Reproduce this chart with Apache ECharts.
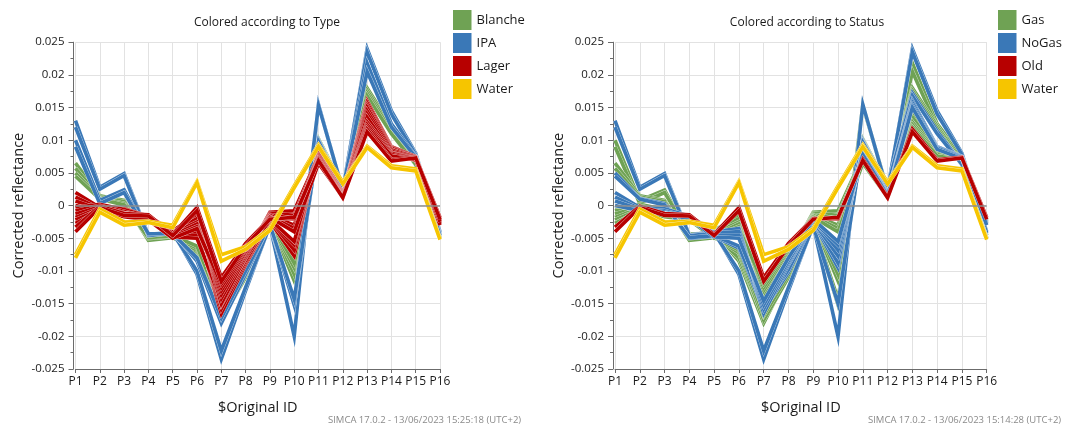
<!DOCTYPE html>
<html>
<head>
<meta charset="utf-8">
<title>Corrected reflectance spectra</title>
<script src="https://cdn.jsdelivr.net/npm/echarts@6/dist/echarts.min.js"></script>
<style>
  html, body { margin: 0; padding: 0; background: #fff; }
  #chart { width: 1074px; height: 428px; }
</style>
</head>
<body>
<div id="chart"></div>
<script>
// Wavelength positions (variables) along the x axis
const categories = ['P1', 'P2', 'P3', 'P4', 'P5', 'P6', 'P7', 'P8', 'P9', 'P10', 'P11', 'P12', 'P13', 'P14', 'P15', 'P16'];

// One row per sample: name, beer type and storage status
const sampleNames = ['IPA1', 'IPA2', 'IPA3', 'IPA4', 'B1', 'B2', 'B3', 'B4',
  'L1', 'L2', 'L3', 'L4', 'L5', 'L6', 'L7', 'L8', 'L9', 'L10', 'L11', 'L12', 'W1', 'W2'];
const sampleType = ['IPA', 'IPA', 'IPA', 'IPA', 'Blanche', 'Blanche', 'Blanche', 'Blanche',
  'Lager', 'Lager', 'Lager', 'Lager', 'Lager', 'Lager', 'Lager', 'Lager', 'Lager', 'Lager', 'Lager', 'Lager', 'Water', 'Water'];
const sampleStatus = ['NoGas', 'NoGas', 'Gas', 'Gas', 'Gas', 'Gas', 'NoGas', 'NoGas',
  'NoGas', 'NoGas', 'NoGas', 'NoGas', 'Gas', 'Gas', 'Gas', 'Gas', 'Gas', 'Gas', 'Old', 'Old', 'Water', 'Water'];

// Corrected reflectance per sample, P1..P16
const spectra = [
  [0.0130, 0.0028, 0.0049, -0.0045, -0.0040, -0.0105, -0.0235, -0.0130, -0.0030, -0.0200, 0.0155, 0.0022, 0.0240, 0.0145, 0.0080, -0.0040],
  [0.0120, 0.0025, 0.0046, -0.0046, -0.0042, -0.0100, -0.0222, -0.0125, -0.0031, -0.0150, 0.0100, 0.0025, 0.0235, 0.0140, 0.0078, -0.0042],
  [0.0100, 0.0008, 0.0024, -0.0044, -0.0041, -0.0085, -0.0180, -0.0105, -0.0028, -0.0152, 0.0153, 0.0024, 0.0218, 0.0125, 0.0075, -0.0045],
  [0.0090, 0.0003, 0.0020, -0.0043, -0.0043, -0.0080, -0.0172, -0.0100, -0.0029, -0.0143, 0.0098, 0.0026, 0.0205, 0.0120, 0.0074, -0.0046],
  [0.0065, 0.0015, 0.0008, -0.0052, -0.0048, -0.0072, -0.0175, -0.0110, -0.0024, -0.0115, 0.0102, 0.0030, 0.0180, 0.0122, 0.0065, -0.0050],
  [0.0057, 0.0013, 0.0006, -0.0053, -0.0049, -0.0068, -0.0168, -0.0106, -0.0022, -0.0105, 0.0100, 0.0029, 0.0176, 0.0118, 0.0062, -0.0051],
  [0.0050, 0.0011, 0.0003, -0.0050, -0.0047, -0.0065, -0.0160, -0.0102, -0.0025, -0.0095, 0.0098, 0.0031, 0.0172, 0.0114, 0.0064, -0.0049],
  [0.0045, 0.0010, 0.0001, -0.0049, -0.0046, -0.0062, -0.0155, -0.0098, -0.0023, -0.0088, 0.0097, 0.0030, 0.0168, 0.0110, 0.0063, -0.0050],
  [0.0020, -0.0003, -0.0005, -0.0016, -0.0040, -0.0035, -0.0165, -0.0090, -0.0024, -0.0077, 0.0085, 0.0018, 0.0160, 0.0090, 0.0075, -0.0025],
  [0.0013, -0.0005, -0.0008, -0.0018, -0.0042, -0.0040, -0.0158, -0.0087, -0.0022, -0.0068, 0.0082, 0.0017, 0.0157, 0.0089, 0.0074, -0.0027],
  [0.0007, -0.0006, -0.0010, -0.0019, -0.0045, -0.0045, -0.0152, -0.0084, -0.0023, -0.0060, 0.0080, 0.0016, 0.0153, 0.0088, 0.0073, -0.0028],
  [0.0000, -0.0008, -0.0012, -0.0020, -0.0048, -0.0050, -0.0146, -0.0080, -0.0021, -0.0055, 0.0078, 0.0015, 0.0150, 0.0086, 0.0072, -0.0030],
  [-0.0003, 0.0002, -0.0006, -0.0017, -0.0038, -0.0015, -0.0150, -0.0078, -0.0010, -0.0008, 0.0076, 0.0018, 0.0145, 0.0085, 0.0074, -0.0020],
  [-0.0008, 0.0000, -0.0009, -0.0018, -0.0040, -0.0020, -0.0142, -0.0075, -0.0012, -0.0015, 0.0074, 0.0017, 0.0140, 0.0083, 0.0073, -0.0021],
  [-0.0013, -0.0002, -0.0011, -0.0019, -0.0043, -0.0025, -0.0136, -0.0072, -0.0014, -0.0020, 0.0072, 0.0016, 0.0135, 0.0081, 0.0072, -0.0022],
  [-0.0018, -0.0004, -0.0013, -0.0020, -0.0046, -0.0028, -0.0130, -0.0070, -0.0015, -0.0030, 0.0070, 0.0015, 0.0128, 0.0080, 0.0071, -0.0023],
  [-0.0022, -0.0006, -0.0015, -0.0021, -0.0048, -0.0032, -0.0125, -0.0067, -0.0017, -0.0035, 0.0067, 0.0014, 0.0124, 0.0078, 0.0070, -0.0024],
  [-0.0027, -0.0008, -0.0017, -0.0022, -0.0050, -0.0035, -0.0120, -0.0065, -0.0018, -0.0040, 0.0065, 0.0013, 0.0120, 0.0076, 0.0070, -0.0025],
  [-0.0033, -0.0001, -0.0012, -0.0014, -0.0044, -0.0003, -0.0110, -0.0058, -0.0020, -0.0020, 0.0071, 0.0013, 0.0117, 0.0070, 0.0074, -0.0018],
  [-0.0040, -0.0003, -0.0015, -0.0016, -0.0046, -0.0008, -0.0116, -0.0062, -0.0021, -0.0018, 0.0069, 0.0012, 0.0113, 0.0068, 0.0073, -0.0021],
  [-0.0075, -0.0005, -0.0025, -0.0024, -0.0030, 0.0037, -0.0075, -0.0063, -0.0035, 0.0030, 0.0093, 0.0036, 0.0091, 0.0061, 0.0056, -0.0050],
  [-0.0080, -0.0010, -0.0030, -0.0026, -0.0034, 0.0035, -0.0085, -0.0067, -0.0038, 0.0027, 0.0090, 0.0033, 0.0089, 0.0058, 0.0053, -0.0052]
];

// Group order (also drawing order) and colours for each panel
const typeGroups = ['Blanche', 'IPA', 'Lager', 'Water'];
const statusGroups = ['Gas', 'NoGas', 'Old', 'Water'];
const groupColors = ['#6FA254', '#3A78B7', '#B70000', '#F6C500'];

const FONT = 'Open Sans';
const AXIS_COLOR = '#6b6b6b';
const GRID_COLOR = '#e2e2e2';

// Each spectrum gets a faint white halo underneath so overlapping lines stay distinct
function panelSeries(labels, groups, axisIndex) {
  const out = [];
  groups.forEach((g, gi) => {
    labels.forEach((lab, i) => {
      if (lab !== g) return;
      out.push({
        type: 'line', name: sampleNames[i] + ' halo',
        xAxisIndex: axisIndex, yAxisIndex: axisIndex,
        data: spectra[i], symbol: 'none', silent: true,
        lineStyle: { color: '#ffffff', width: 4.2, join: 'miter', opacity: 0.8 },
        itemStyle: { color: '#ffffff' }
      });
      out.push({
        type: 'line', name: g,
        xAxisIndex: axisIndex, yAxisIndex: axisIndex,
        data: spectra[i], symbol: 'none',
        lineStyle: { color: groupColors[gi], width: 3.6, join: 'miter' },
        itemStyle: { color: groupColors[gi] }
      });
    });
  });
  // zero reference line, drawn underneath all spectra
  out.unshift({
    type: 'line', name: 'zero', xAxisIndex: axisIndex, yAxisIndex: axisIndex,
    data: [], symbol: 'none', silent: true,
    markLine: {
      silent: true, symbol: 'none', label: { show: false },
      lineStyle: { color: '#8c8c8c', width: 1.5, type: 'solid' },
      data: [{ yAxis: 0 }]
    }
  });
  return out;
}

function xAxisFor(gridIndex) {
  return {
    type: 'category', gridIndex: gridIndex, data: categories, boundaryGap: false,
    name: '$Original ID', nameLocation: 'middle', nameGap: 31,
    nameTextStyle: { fontFamily: FONT, fontSize: 14.5, color: '#1a1a1a' },
    axisLine: { onZero: false, lineStyle: { color: AXIS_COLOR, width: 1 } },
    axisTick: { show: true, length: 4, lineStyle: { color: AXIS_COLOR } },
    axisLabel: { interval: 0, margin: 7, fontFamily: FONT, fontSize: 12, color: '#1a1a1a' },
    splitLine: { show: true, lineStyle: { color: GRID_COLOR, width: 1 } }
  };
}

function yAxisFor(gridIndex) {
  return {
    type: 'value', gridIndex: gridIndex, min: -0.025, max: 0.025, interval: 0.005,
    offset: 2,
    name: 'Corrected reflectance', nameLocation: 'middle', nameGap: 47, nameRotate: 90,
    nameTextStyle: { fontFamily: FONT, fontSize: 14.5, color: '#1a1a1a' },
    axisLine: { show: true, lineStyle: { color: AXIS_COLOR, width: 1 } },
    axisTick: { show: true, length: 5, lineStyle: { color: AXIS_COLOR } },
    minorTick: { show: true, splitNumber: 2, length: 3, lineStyle: { color: AXIS_COLOR } },
    axisLabel: {
      margin: 9, fontFamily: FONT, fontSize: 11.5, color: '#1a1a1a',
      formatter: v => String(+v.toFixed(3))
    },
    splitLine: { show: true, lineStyle: { color: GRID_COLOR, width: 1 } }
  };
}

function legendFor(groups, left) {
  return {
    orient: 'vertical', left: left, top: 10, icon: 'rect',
    itemWidth: 18.5, itemHeight: 20, itemGap: 3, padding: 0,
    selectedMode: false,
    textStyle: { fontFamily: FONT, fontSize: 13, color: '#1a1a1a', padding: [0, 0, 0, 0] },
    data: groups.map((g, gi) => ({ name: g, itemStyle: { color: groupColors[gi] } }))
  };
}

const chart = echarts.init(document.getElementById('chart'), null, { renderer: 'canvas' });
chart.setOption({
  animation: false,
  backgroundColor: '#ffffff',
  title: [
    { text: 'Colored according to Type', left: 262, top: 12, textAlign: 'center',
      textStyle: { fontFamily: FONT, fontSize: 12, fontWeight: 'normal', color: '#1a1a1a' } },
    { text: 'Colored according to Status', left: 802, top: 12, textAlign: 'center',
      textStyle: { fontFamily: FONT, fontSize: 12, fontWeight: 'normal', color: '#1a1a1a' } }
  ],
  legend: [legendFor(typeGroups, 453), legendFor(statusGroups, 998)],
  grid: [
    { left: 75.5, top: 42.2, width: 364.5, height: 326.8 },
    { left: 615, top: 42.2, width: 371.7, height: 326.8 }
  ],
  xAxis: [xAxisFor(0), xAxisFor(1)],
  yAxis: [yAxisFor(0), yAxisFor(1)],
  series: panelSeries(sampleType, typeGroups, 0).concat(panelSeries(sampleStatus, statusGroups, 1)),
  graphic: [
    { type: 'text', left: 328, top: 415,
      style: { text: 'SIMCA 17.0.2 - 13/06/2023 15:25:18 (UTC+2)', font: '9.5px "Open Sans"', fill: '#8a8a8a' } },
    { type: 'text', left: 868, top: 415,
      style: { text: 'SIMCA 17.0.2 - 13/06/2023 15:14:28 (UTC+2)', font: '9.5px "Open Sans"', fill: '#8a8a8a' } }
  ]
});
</script>
</body>
</html>
